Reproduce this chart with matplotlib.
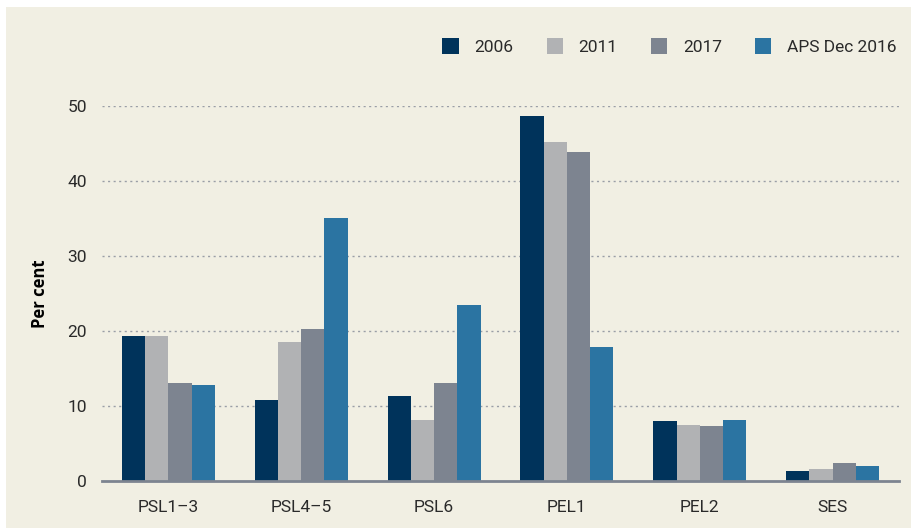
import matplotlib
matplotlib.use("Agg")
import matplotlib.pyplot as plt
import numpy as np
from matplotlib.patches import Rectangle

categories = ["PSL1\u20133", "PSL4\u20135", "PSL6", "PEL1", "PEL2", "SES"]
series_names = ["2006", "2011", "2017", "APS Dec 2016"]
v2006 = [19.3, 10.8, 11.3, 48.7, 8.0, 1.3]
v2011 = [19.3, 18.5, 8.1, 45.2, 7.5, 1.6]
v2017 = [13.1, 20.3, 13.1, 43.9, 7.3, 2.4]
vaps = [12.8, 35.1, 23.5, 17.9, 8.1, 2.0]
yticks = [0, 10, 20, 30, 40, 50]

colors = ["#00335b", "#b1b2b4", "#7d8490", "#2b74a2"]
bg = "#f1efe3"
tc = "#2a2a2a"

W, H = 912, 532
fig = plt.figure(figsize=(W/100, H/100), dpi=100, facecolor="white")
fig.patches.append(Rectangle((6/W, 4/H), 1 - 6/W, 521/H, transform=fig.transFigure,
                             facecolor=bg, edgecolor="none", zorder=-10))

ax = fig.add_axes([102/W, 1 - 481/H, 797/W, 375/H])
ax.set_facecolor("none")
ax.set_ylim(0, 50)
ax.set_xlim(-0.5, 5.5)

x = np.arange(len(categories))
bw = 0.175
data = [v2006, v2011, v2017, vaps]
for i, (vals, c, name) in enumerate(zip(data, colors, series_names)):
    ax.bar(x + (i - 1.5) * bw, vals, width=bw, color=c, label=name, zorder=3)

for y in yticks[1:]:
    ax.axhline(y, color="#9a9ea6", lw=1.0, ls=(0, (1.5, 2.5)), zorder=1)

for s in ["top", "right", "left"]:
    ax.spines[s].set_visible(False)
ax.spines["bottom"].set_color("#7d8490")
ax.spines["bottom"].set_linewidth(2)
ax.spines["bottom"].set_zorder(4)

ax.set_yticks(yticks)
ax.set_yticklabels([str(t) for t in yticks], fontsize=12.5, color=tc, fontfamily="Roboto")
ax.set_xticks(x)
ax.set_xticklabels(categories, fontsize=12.5, color=tc, fontfamily="Roboto")
ax.tick_params(axis="both", length=0)
ax.tick_params(axis="y", pad=11)
ax.tick_params(axis="x", pad=14)
ax.set_ylabel("Per cent", fontsize=12, fontweight="bold", color="black", labelpad=13, fontfamily="Open Sans")

leg = fig.legend(loc="upper right", bbox_to_anchor=(912/W, 1 - 22/H), ncol=4, frameon=False,
                 handlelength=0.95, handleheight=1.1, columnspacing=1.9, handletextpad=0.9,
                 prop={"family": "Roboto", "size": 12.5})
for t in leg.get_texts():
    t.set_color(tc)

fig.savefig("out.png", dpi=100, facecolor="white")
